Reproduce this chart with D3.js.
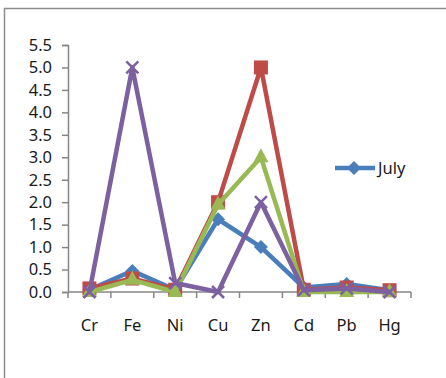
<!DOCTYPE html>
<html>
<head>
<meta charset="utf-8">
<script src="https://cdn.jsdelivr.net/npm/d3@7"></script>
<style>
  body { margin: 0; background: #fff; }
  svg { display: block; }
  text { font-family: "Noto Sans", sans-serif; fill: #1a1a1a; }
</style>
</head>
<body>
<div id="chart"></div>
<script>
// metals along the x axis
const metals = ["Cr", "Fe", "Ni", "Cu", "Zn", "Cd", "Pb", "Hg"];

// series values
const july   = [0.05, 0.47, 0.05, 1.62, 1.0, 0.1, 0.18, 0.04];
const seriesR = [0.08, 0.3, 0.05, 2.0, 5.0, 0.05, 0.1, 0.04];
const seriesG = [0.0, 0.27, 0.0, 1.95, 3.0, 0.0, 0.0, 0.0];
const seriesP = [0.0, 5.0, 0.2, 0.0, 2.0, 0.04, 0.08, 0.0];

const yTicks = [0, 0.5, 1, 1.5, 2, 2.5, 3, 3.5, 4, 4.5, 5, 5.5];

const width = 446, height = 378;
const plotLeft = 68, plotRight = 411, plotTop = 45, plotBottom = 292;
const fontSize = 16.5;

const svg = d3.select("#chart").append("svg")
    .attr("width", width)
    .attr("height", height);

// outer frame (only top and left show)
svg.append("path")
    .attr("d", "M4.5," + height + "V8.5H" + width)
    .attr("fill", "none")
    .attr("stroke", "#8c8c8c")
    .attr("stroke-width", 1.5);

const x = d3.scaleBand()
    .domain(metals)
    .range([plotLeft, plotRight]);

const y = d3.scaleLinear()
    .domain([0, 5.5])
    .range([plotBottom, plotTop]);

// y axis
const yAxis = svg.append("g")
    .attr("transform", "translate(" + plotLeft + ",0)")
    .call(d3.axisLeft(y).tickValues(yTicks).tickFormat(d3.format(".1f")).tickSize(6).tickPadding(10));
yAxis.select(".domain").attr("stroke", "#868686").attr("stroke-width", 1.5);
yAxis.selectAll(".tick line").attr("stroke", "#868686").attr("stroke-width", 1.5);
yAxis.selectAll("text").attr("font-size", fontSize).attr("fill", "#1a1a1a")
    .style("font-family", "'Noto Sans', sans-serif");

// x axis: line, ticks at band edges, labels in band centres
const xAxis = svg.append("g").attr("transform", "translate(0," + plotBottom + ")");
xAxis.append("line")
    .attr("x1", plotLeft).attr("x2", plotRight)
    .attr("stroke", "#868686").attr("stroke-width", 1.5);
xAxis.selectAll(".edge")
    .data(metals.map(d => x(d)).concat([plotRight]))
    .enter().append("line")
    .attr("x1", d => d).attr("x2", d => d)
    .attr("y1", 0).attr("y2", 6)
    .attr("stroke", "#868686").attr("stroke-width", 1.5);
xAxis.selectAll(".lab")
    .data(metals)
    .enter().append("text")
    .attr("x", d => x(d) + x.bandwidth() / 2)
    .attr("y", 39)
    .attr("text-anchor", "middle")
    .attr("font-size", fontSize)
    .text(d => d);

const cx = (d, i) => x(metals[i]) + x.bandwidth() / 2;
const line = d3.line().x(cx).y(d => y(d));

const series = [
    { values: july,    color: "#4a7ebb", marker: "diamond" },
    { values: seriesR, color: "#be4b48", marker: "square" },
    { values: seriesG, color: "#98b954", marker: "triangle" },
    { values: seriesP, color: "#7d60a0", marker: "cross" }
];

function marker(g, type, color) {
    if (type === "diamond") {
        g.append("path").attr("d", "M0,-7L7,0L0,7L-7,0Z").attr("fill", color);
    } else if (type === "square") {
        g.append("rect").attr("x", -7).attr("y", -7).attr("width", 14).attr("height", 14)
            .attr("fill", color);
    } else if (type === "triangle") {
        g.append("path").attr("d", "M0,-9L7.5,5L-7.5,5Z").attr("fill", color);
    } else {
        g.append("path").attr("d", "M-6,-6L6,6M-6,6L6,-6")
            .attr("stroke", color).attr("stroke-width", 2.5);
    }
}

series.forEach(s => {
    const g = svg.append("g");
    g.append("path")
        .datum(s.values)
        .attr("d", line)
        .attr("fill", "none")
        .attr("stroke", s.color)
        .attr("stroke-width", 4.5)
        .attr("stroke-linejoin", "round");
    g.selectAll(".pt")
        .data(s.values)
        .enter().append("g")
        .attr("transform", (d, i) => "translate(" + cx(d, i) + "," + y(d) + ")")
        .each(function () { marker(d3.select(this), s.marker, s.color); });
});

// legend (only July is visible)
const leg = svg.append("g").attr("transform", "translate(335,168)");
leg.append("line").attr("x1", 0).attr("x2", 40)
    .attr("stroke", "#4a7ebb").attr("stroke-width", 4.5);
marker(leg.append("g").attr("transform", "translate(19,0)"), "diamond", "#4a7ebb");
leg.append("text").attr("x", 43).attr("y", 6).attr("font-size", fontSize).text("July");
</script>
</body>
</html>
